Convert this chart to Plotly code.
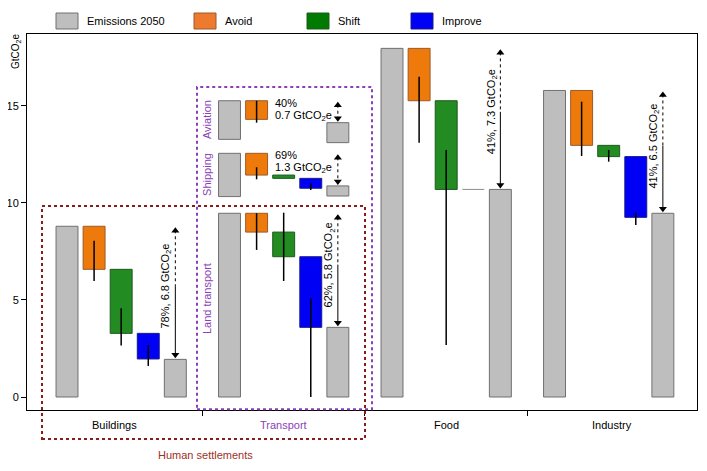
import plotly.graph_objects as go

# ---------------- data (GtCO2e) ----------------
groups = ["Buildings", "Transport", "Food", "Industry"]
emissions_2050 = [8.8, 9.47, 17.97, 15.8]
after_avoid = [6.58, 8.5, 15.27, 12.97]
after_shift = [3.28, 7.23, 10.7, 12.39]
after_improve = [1.96, 3.59, 10.7, 9.26]
remaining = [1.94, 3.59, 10.7, 9.47]
avoid_err = [[8.06, 5.98], [9.47, 7.58], [16.51, 13.11], [15.22, 12.42]]
shift_err = [[4.57, 2.65], [9.5, 5.98], [12.73, 2.68], [12.73, 12.13]]
improve_err = [[2.68, 1.6], [5.09, 0.0], None, [9.5, 8.87]]
reduction_text = ["78%, 6.8 GtCO<sub>2</sub>e", "62%, 5.8 GtCO<sub>2</sub>e",
                  "41%, 7.3 GtCO<sub>2</sub>e", "41%, 6.5 GtCO<sub>2</sub>e"]

# transport sub-sectors drawn as insets above land transport
sub_names = ["Aviation", "Shipping"]
sub_floor = [13.28, 10.33]
sub_emissions = [15.27, 12.56]
sub_after_avoid = [14.31, 11.44]
sub_after_shift = [14.31, 11.27]
sub_after_improve = [14.31, 10.76]
sub_remaining = [14.14, 10.88]
sub_remaining_floor = [13.11, 10.36]
sub_avoid_err = [[15.27, 14.14], [11.84, 11.22]]
sub_improve_err = [None, [11.01, 10.67]]
sub_pct = ["40%", "69%"]
sub_amount = ["0.7 GtCO<sub>2</sub>e", "1.3 GtCO<sub>2</sub>e"]
land_label = "Land transport"

legend_names = ["Emissions 2050", "Avoid", "Shift", "Improve"]
y_ticks = [0, 5, 10, 15]

# ---------------- styling ----------------
FILL = {"gray": "#BEBEBE", "orange": "#EE7A0C", "green": "#228B22", "blue": "#0000F5"}
EDGE = {"gray": "#707070", "orange": "#9C5A28", "green": "#1E5A1E", "blue": "#1A1A8C"}
LEG_FILL = {"gray": "#BEBEBE", "orange": "#EE7A30", "green": "#007A00", "blue": "#0000F5"}
PURPLE = "#8B3FB8"
DARKRED = "#8B1A1A"
FONT = "Liberation Sans, Arial, sans-serif"
W = 0.81
SLOT = 6
XR = [-1.477, 23.26]
YR = [-0.67, 18.71]
# page body has an 8px margin; plot area target: x 27..697, y 34..410 in the window
OFF = 8
PL, PT, PR, PB = 27, 34, 697, 410
PLOT_W = PR - PL
PLOT_H = PB - PT
PX = (YR[1] - YR[0]) / PLOT_H  # data units per pixel (vertical)


def paper_x(px):
    return (px - PL) / PLOT_W


def paper_y(py):
    return (PB - py) / PLOT_H


fig = go.Figure()


def add_bars(xs, bases, heights, key):
    fig.add_trace(go.Bar(x=xs, y=heights, base=bases, width=W,
                         marker=dict(color=FILL[key], line=dict(color=EDGE[key], width=1)),
                         showlegend=False, hoverinfo="skip"))


def xpos(g, s):
    return SLOT * g + s


# main waterfall bars
gx, gb, gh = [], [], []
ox, ob, oh = [], [], []
grx, grb, grh = [], [], []
bx, bb, bh = [], [], []
zero_lines = []
for g in range(len(groups)):
    gx += [xpos(g, 0), xpos(g, 4)]
    gb += [0, 0]
    gh += [emissions_2050[g], remaining[g]]
    steps = [(emissions_2050[g], after_avoid[g], ox, ob, oh, 1),
             (after_avoid[g], after_shift[g], grx, grb, grh, 2),
             (after_shift[g], after_improve[g], bx, bb, bh, 3)]
    for top, bot, lx, lb, lh, s in steps:
        if top - bot > 1e-9:
            lx.append(xpos(g, s)); lb.append(bot); lh.append(top - bot)
        else:
            zero_lines.append((xpos(g, s), top))
add_bars(gx, gb, gh, "gray")
add_bars(ox, ob, oh, "orange")
add_bars(grx, grb, grh, "green")
add_bars(bx, bb, bh, "blue")

# sub-sector bars
t = 1
sgx, sgb, sgh = [], [], []
sox, sob, soh = [], [], []
sgrx, sgrb, sgrh = [], [], []
sbx, sbb, sbh = [], [], []
for i in range(len(sub_names)):
    sgx += [xpos(t, 0), xpos(t, 4)]
    sgb += [sub_floor[i], sub_remaining_floor[i]]
    sgh += [sub_emissions[i] - sub_floor[i], sub_remaining[i] - sub_remaining_floor[i]]
    steps = [(sub_emissions[i], sub_after_avoid[i], sox, sob, soh, 1),
             (sub_after_avoid[i], sub_after_shift[i], sgrx, sgrb, sgrh, 2),
             (sub_after_shift[i], sub_after_improve[i], sbx, sbb, sbh, 3)]
    for top, bot, lx, lb, lh, s in steps:
        if top - bot > 1e-9:
            lx.append(xpos(t, s)); lb.append(bot); lh.append(top - bot)
add_bars(sgx, sgb, sgh, "gray")
add_bars(sox, sob, soh, "orange")
add_bars(sgrx, sgrb, sgrh, "green")
add_bars(sbx, sbb, sbh, "blue")

# zero-height steps drawn as a thin gray line
for x0, yv in zero_lines:
    fig.add_trace(go.Scatter(x=[x0 - W / 2, x0 + W / 2], y=[yv, yv], mode="lines",
                             line=dict(color="#8C8C8C", width=1), showlegend=False, hoverinfo="skip"))

# uncertainty lines
ex, ey = [], []
for g in range(len(groups)):
    for s, rng in ((1, avoid_err[g]), (2, shift_err[g]), (3, improve_err[g])):
        if rng:
            ex += [xpos(g, s), xpos(g, s), None]
            ey += [rng[0], rng[1], None]
for i in range(len(sub_names)):
    for s, rng in ((1, sub_avoid_err[i]), (3, sub_improve_err[i])):
        if rng:
            ex += [xpos(t, s), xpos(t, s), None]
            ey += [rng[0], rng[1], None]
fig.add_trace(go.Scatter(x=ex, y=ey, mode="lines", line=dict(color="black", width=1.5),
                         showlegend=False, hoverinfo="skip"))

annotations = []
head_up_x, head_up_y, head_dn_x, head_dn_y = [], [], [], []
GAP = 1.5  # px between arrow tip and bar
HALF = 3.0  # px, half height of arrow-head marker


def arrow(xa, top, bot, split=None):
    if split is None:
        fig.add_trace(go.Scatter(x=[xa, xa], y=[top - 4 * PX, bot + 4 * PX], mode="lines",
                                 line=dict(color="black", width=1, dash="dot"),
                                 showlegend=False, hoverinfo="skip"))
    else:
        fig.add_trace(go.Scatter(x=[xa, xa], y=[top - 4 * PX, split], mode="lines",
                                 line=dict(color="black", width=1, dash="dot"),
                                 showlegend=False, hoverinfo="skip"))
        fig.add_trace(go.Scatter(x=[xa, xa], y=[split, bot + 4 * PX], mode="lines",
                                 line=dict(color="black", width=1),
                                 showlegend=False, hoverinfo="skip"))
    head_up_x.append(xa); head_up_y.append(top - (GAP + HALF) * PX)
    head_dn_x.append(xa); head_dn_y.append(bot + (GAP + HALF) * PX)


# reduction arrows (main)
for g in range(len(groups)):
    xa = xpos(g, 4)
    top, bot = emissions_2050[g], remaining[g]
    split = bot + 0.55 * (top - bot)
    arrow(xa, top, bot, split)
    annotations.append(dict(x=xa, y=split, xref="x", yref="y", text=reduction_text[g],
                            textangle=-90, showarrow=False, xshift=-9,
                            xanchor="center", yanchor="middle",
                            font=dict(size=11, color="black", family=FONT)))

# reduction arrows (sub-sectors) and inset labels
for i in range(len(sub_names)):
    xa = xpos(t, 4)
    arrow(xa, sub_emissions[i], sub_remaining[i])
    annotations.append(dict(x=xpos(t, 2) - W / 2, y=sub_emissions[i], xref="x", yref="y",
                            text=sub_pct[i], xanchor="left", yanchor="middle", yshift=-2,
                            showarrow=False, font=dict(size=11, color="black", family=FONT)))
    annotations.append(dict(x=xpos(t, 2) - W / 2, y=sub_emissions[i], xref="x", yref="y",
                            text=sub_amount[i], xanchor="left", yanchor="middle", yshift=-15,
                            showarrow=False, font=dict(size=11, color="black", family=FONT)))
    annotations.append(dict(x=paper_x(207), y=(sub_floor[i] + sub_emissions[i]) / 2,
                            xref="paper", yref="y", text=sub_names[i], textangle=-90,
                            xanchor="center", yanchor="middle",
                            showarrow=False, font=dict(size=11, color=PURPLE, family=FONT)))
annotations.append(dict(x=paper_x(207), y=5.05, xref="paper", yref="y", text=land_label,
                        textangle=-90, xanchor="center", yanchor="middle",
                        showarrow=False, font=dict(size=11, color=PURPLE, family=FONT)))

fig.add_trace(go.Scatter(x=head_up_x, y=head_up_y, mode="markers",
                         marker=dict(symbol="triangle-up", size=7, color="black", line=dict(width=0)),
                         showlegend=False, hoverinfo="skip"))
fig.add_trace(go.Scatter(x=head_dn_x, y=head_dn_y, mode="markers",
                         marker=dict(symbol="triangle-down", size=7, color="black", line=dict(width=0)),
                         showlegend=False, hoverinfo="skip"))

# category labels
bounds = [XR[0], 5, 11, 17, XR[1]]
for g, name in enumerate(groups):
    annotations.append(dict(x=(bounds[g] + bounds[g + 1]) / 2, y=paper_y(425), xref="x",
                            yref="paper", text=name, showarrow=False,
                            xanchor="center", yanchor="middle",
                            font=dict(size=11, color=PURPLE if name == "Transport" else "black",
                                      family=FONT)))
annotations.append(dict(x=paper_x(205), y=paper_y(455), xref="paper", yref="paper",
                        text="Human settlements", showarrow=False,
                        xanchor="center", yanchor="middle",
                        font=dict(size=11, color="#A0301E", family=FONT)))

# y-axis title
annotations.append(dict(x=paper_x(16), y=paper_y(52), xref="paper", yref="paper",
                        text="GtCO<sub>2</sub>e", textangle=-90, showarrow=False,
                        xanchor="center", yanchor="middle",
                        font=dict(size=10, color="black", family=FONT)))

# custom legend
shapes = []
leg_keys = ["gray", "orange", "green", "blue"]
leg_px = [56, 194, 307, 411]
for key, name, px in zip(leg_keys, legend_names, leg_px):
    shapes.append(dict(type="rect", xref="paper", yref="paper",
                       x0=paper_x(px), x1=paper_x(px + 22),
                       y0=paper_y(29), y1=paper_y(13),
                       fillcolor=LEG_FILL[key], line=dict(color=EDGE[key], width=1)))
    annotations.append(dict(x=paper_x(px + 29), y=paper_y(21), xref="paper", yref="paper",
                            text=name, xanchor="left", yanchor="middle", showarrow=False,
                            font=dict(size=11, color="black", family=FONT)))

# grouping boxes
shapes.append(dict(type="rect", xref="paper", yref="paper",
                   x0=paper_x(197), x1=paper_x(372), y0=0.002, y1=paper_y(87),
                   line=dict(color=PURPLE, width=2, dash="dot"), fillcolor="rgba(0,0,0,0)"))
shapes.append(dict(type="rect", xref="paper", yref="paper",
                   x0=paper_x(42), x1=paper_x(365), y0=paper_y(439), y1=paper_y(206),
                   line=dict(color=DARKRED, width=2, dash="dot"), fillcolor="rgba(0,0,0,0)"))

FIG_W, FIG_H = 707 - OFF, 471 - OFF
fig.update_layout(
    width=FIG_W, height=FIG_H,
    margin=dict(l=PL - OFF, r=FIG_W + OFF - PR, t=PT - OFF, b=FIG_H + OFF - PB, autoexpand=False),
    paper_bgcolor="white", plot_bgcolor="white",
    barmode="overlay", showlegend=False,
    font=dict(family=FONT, size=11, color="black"),
    annotations=annotations, shapes=shapes,
    xaxis=dict(range=XR, tickvals=[5, 11, 17], showticklabels=False, ticks="outside",
               ticklen=5, tickcolor="black", showline=True, linecolor="black", linewidth=1,
               mirror=True, showgrid=False, zeroline=False, automargin=False),
    yaxis=dict(range=YR, tickvals=y_ticks, ticks="outside", ticklen=5, tickcolor="black",
               showline=True, linecolor="black", linewidth=1, mirror=True, showgrid=False,
               zeroline=False, automargin=False, tickfont=dict(size=11, family=FONT)),
)

fig.write_html("out.html")
